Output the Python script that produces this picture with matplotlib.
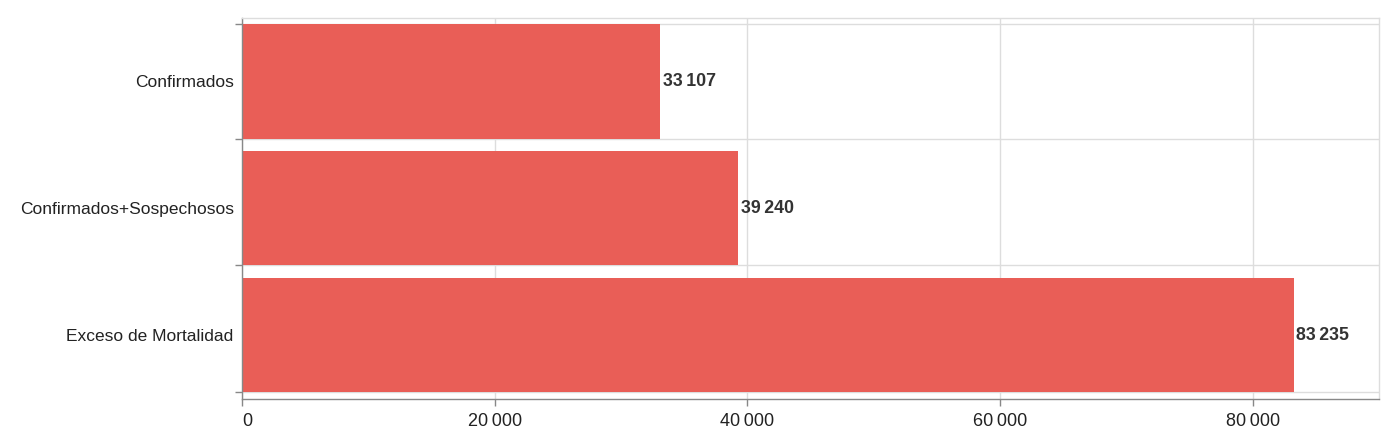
import matplotlib.pyplot as plt
from matplotlib.ticker import FuncFormatter, FixedLocator

categories = ["Confirmados", "Confirmados+Sospechosos", "Exceso de Mortalidad"]
deaths = [33107, 39240, 83235]
x_ticks = [0, 20000, 40000, 60000, 80000]

bar_color = "#e95e57"
grid_color = "#dddddd"
axis_color = "#888888"

plt.rcParams["font.family"] = ["Liberation Sans", "DejaVu Sans"]


def fmt_num(v, pos=None):
    # thin space as thousands separator
    return f"{int(v):,}".replace(",", "\u2009")


fig = plt.figure(figsize=(14, 4.34), dpi=100)
ax = fig.add_axes([0.1729, 0.0813, 0.8121, 0.8772])

ypos = list(range(len(categories)))
ax.barh(ypos, deaths, height=0.9, color=bar_color, zorder=2)

ax.set_xlim(0, 90000)
ax.set_ylim(2.5, -0.5)

# value labels at the end of each bar
for y, value in zip(ypos, deaths):
    ax.annotate(fmt_num(value), xy=(value, y), xytext=(2, 0),
                textcoords="offset points", ha="left", va="center",
                fontsize=12.8, fontweight="bold", color="#333333")

ax.set_xticks(x_ticks)
ax.xaxis.set_major_formatter(FuncFormatter(fmt_num))
ax.set_yticks(ypos)
ax.set_yticklabels(categories)
ax.yaxis.set_minor_locator(FixedLocator([-0.45, 0.45, 1.45, 2.45]))

ax.tick_params(axis="y", which="major", length=0, pad=6, labelsize=12.5,
               labelcolor="#222222")
ax.tick_params(axis="y", which="minor", length=5, width=1, color=axis_color)
ax.tick_params(axis="x", which="major", length=5, width=1, color=axis_color,
               labelsize=13, labelcolor="#222222", pad=5)

# first x label sits to the right of its tick
ax.get_xticklabels()[0].set_horizontalalignment("left")

ax.grid(axis="x", which="major", color=grid_color, linewidth=1, zorder=0)
ax.grid(axis="y", which="minor", color=grid_color, linewidth=1, zorder=0)
ax.grid(axis="y", which="major", visible=False)

for side in ["top", "right"]:
    ax.spines[side].set_color(grid_color)
    ax.spines[side].set_linewidth(1)
for side in ["left", "bottom"]:
    ax.spines[side].set_color(axis_color)
    ax.spines[side].set_linewidth(1)

plt.savefig("out.png", dpi=100)
